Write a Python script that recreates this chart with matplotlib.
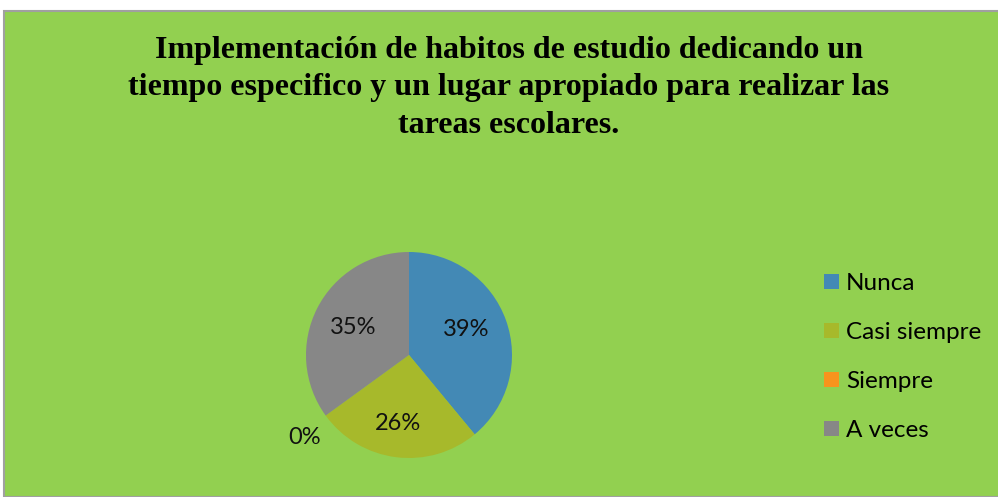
import matplotlib
matplotlib.use("Agg")
import matplotlib.pyplot as plt
from matplotlib.patches import Rectangle, Patch

categories = ["Nunca", "Casi siempre", "Siempre", "A veces"]
values = [39, 26, 0, 35]
labels_pct = ["39%", "26%", "0%", "35%"]
colors = ["#4389B5", "#A7B92B", "#F7941D", "#878787"]
title = ("Implementación de habitos de estudio dedicando un\n"
         "tiempo especifico y un lugar apropiado para realizar las\n"
         "tareas escolares.")

W, H = 998, 497
fig = plt.figure(figsize=(W / 100, H / 100), dpi=100)
fig.patch.set_facecolor("white")

bg = Rectangle((4 / W, 0), 1, 1 - 11 / H, transform=fig.transFigure,
               facecolor="#92D050", edgecolor="#A0A0A0", linewidth=1.5, zorder=-10)
fig.patches.append(bg)

fig.text(509 / W, 1 - 88 / H, title, ha="center", va="center",
         family="Liberation Serif", fontweight="bold", fontsize=23,
         linespacing=1.38)

cx, cy, r = 409, 355, 103
ax = fig.add_axes([(cx - r) / W, (H - cy - r) / H, 2 * r / W, 2 * r / H])
ax.set_zorder(2)
ax.set_facecolor("none")
wedges, _ = ax.pie(values, colors=colors, startangle=90, counterclock=False,
                   radius=1.0)
ax.set_xlim(-1, 1)
ax.set_ylim(-1, 1)
ax.set_aspect("equal")
ax.axis("off")

label_pos = [(466, 329), (398, 424), (305, 438), (353, 327)]
for (lx, ly), t in zip(label_pos, labels_pct):
    fig.text(lx / W, 1 - ly / H, t, ha="center", va="center",
             family="Lato", fontsize=17, color="#111111", zorder=5)

handles = [Patch(facecolor=c, edgecolor="none") for c in colors]
leg = fig.legend(handles, categories, loc="upper left",
                 bbox_to_anchor=(824 / W, 1 - 273 / H),
                 frameon=False, prop={"family": "Lato", "size": 17.5},
                 handlelength=0.6, handleheight=0.6, handletextpad=0.3,
                 labelspacing=1.15, borderpad=0, borderaxespad=0)

fig.savefig("out.png", dpi=100)
